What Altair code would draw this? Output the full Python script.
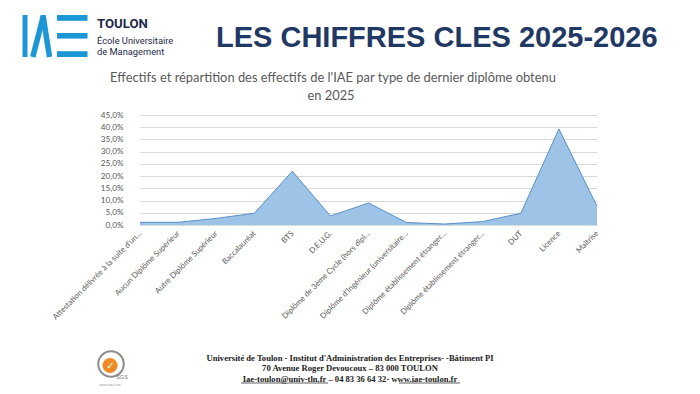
import json
import altair as alt
import pandas as pd

# ---------------- data ----------------
categories = [
    "Attestation délivrée à la suite d'un…",
    "Aucun Diplôme Supérieur",
    "Autre Diplôme Supérieur",
    "Baccalauréat",
    "BTS",
    "D.E.U.G.",
    "Diplôme de 3ème Cycle (hors dipl…",
    "Diplôme d'Ingénieur (universitaire…",
    "Diplôme établissement étranger…",
    "Diplôme établissement étranger…",
    "DUT",
    "Licence",
    "Maîtrise",
]
values = [1.1, 1.1, 2.7, 4.8, 22.0, 3.7, 9.0, 1.0, 0.4, 1.4, 4.8, 39.3, 7.7]
y_ticks = [0, 5, 10, 15, 20, 25, 30, 35, 40, 45]

main_title = "LES CHIFFRES CLES 2025-2026"
chart_title = ["Effectifs et répartition des effectifs de l'IAE par type de dernier diplôme obtenu", "en 2025"]
footer = [
    "Université de Toulon - Institut d'Administration des Entreprises- -Bâtiment PI",
    "70 Avenue Roger Devoucoux – 83 000 TOULON",
    "Iae-toulon@univ-tln.fr – 04 83 36 64 32- www.iae-toulon.fr",
]

df = pd.DataFrame({"idx": list(range(len(categories))), "value": values})

# plot-area origin on the page
OX, OY = 140, 115
W, H = 457, 110


def X(x):
    return x - OX


def Y(y):
    return y - OY


one = pd.DataFrame({"a": [0]})

label_expr = json.dumps(categories) + "[datum.value]"

x_enc = alt.X(
    "idx:O",
    scale=alt.Scale(type="point", padding=0),
    axis=alt.Axis(
        title=None,
        labelExpr=label_expr,
        labelAngle=-45,
        labelAlign="right",
        labelBaseline="middle",
        labelPadding=7,
        labelFont="Lato",
        labelFontSize=7.8,
        labelColor="#595959",
        labelLimit=300,
        domain=False,
        ticks=False,
        grid=False,
    ),
)
y_enc = alt.Y(
    "value:Q",
    scale=alt.Scale(domain=[0, 45], nice=False),
    axis=alt.Axis(
        title=None,
        values=y_ticks,
        labelExpr="replace(format(datum.value, '.1f'), '.', ',') + '%'",
        labelFont="Lato",
        labelFontSize=8.2,
        labelColor="#595959",
        labelPadding=17,
        domain=False,
        ticks=False,
        grid=True,
        gridColor="#d9d9d9",
        gridWidth=1,
    ),
)

area = alt.Chart(df).mark_area(
    color="#9dc3e6",
    opacity=1,
    line={"color": "#5b8fc7", "strokeWidth": 1},
).encode(x=x_enc, y=y_enc)


def text(t, x, y, **kw):
    return alt.Chart(one).mark_text(text=t, **kw).encode(x=alt.value(X(x)), y=alt.value(Y(y)))


def rect(x1, x2, y1, y2, color):
    return alt.Chart(one).mark_rect(color=color).encode(
        x=alt.value(X(x1)), x2=alt.value(X(x2)), y=alt.value(Y(y1)), y2=alt.value(Y(y2))
    )


def rule(x1, y1, x2, y2, color, w, cap="butt"):
    return alt.Chart(one).mark_rule(color=color, strokeWidth=w, strokeCap=cap).encode(
        x=alt.value(X(x1)), x2=alt.value(X(x2)), y=alt.value(Y(y1)), y2=alt.value(Y(y2))
    )


BLUE = "#1d96d6"
NAVY = "#1e2a4a"
layers = [area]

# IAE logo
layers += [
    rect(22.5, 27.5, 15, 57, BLUE),
    rule(32.8, 57, 43.2, 16.5, BLUE, 5.5),
    rule(43.2, 16.5, 49.5, 57, BLUE, 5.5),
    rect(40.6, 45.8, 15, 19, BLUE),
    rect(57, 87.5, 15, 20.8, BLUE),
    rect(57, 87.5, 33, 38.6, BLUE),
    rect(57, 87.5, 51.2, 57, BLUE),
]
layers += [
    text("TOULON", 97, 28.3, align="left", baseline="alphabetic", font="Roboto", fontSize=13.2, fontWeight="bold", color=NAVY),
    text("École Universitaire", 97, 44, align="left", baseline="alphabetic", font="Roboto", fontSize=9.3, color=NAVY),
    text("de Management", 97, 55, align="left", baseline="alphabetic", font="Roboto", fontSize=9.3, color=NAVY),
]
# main title
layers.append(
    text(main_title, 216, 46.7, align="left", baseline="alphabetic", font="Liberation Sans", fontSize=29, fontWeight="bold", color="#1f3864")
)
# chart title
layers += [
    text(chart_title[0], 333, 81.7, align="center", baseline="alphabetic", font="Lato", fontSize=12.9, color="#595959"),
    text(chart_title[1], 331, 100, align="center", baseline="alphabetic", font="Lato", fontSize=12.9, color="#595959"),
]
# footer
fy = [360.5, 371, 381.5]
for t, yy in zip(footer, fy):
    layers.append(text(t, 350, yy, align="center", baseline="alphabetic", font="Liberation Serif", fontSize=8.6, fontWeight="bold", color="#1a1a1a"))
layers += [
    rule(241, 383, 328, 383, "#1a1a1a", 0.7),
    rule(399, 383, 460, 383, "#1a1a1a", 0.7),
]
# SGS logo
layers += [
    alt.Chart(one).mark_point(shape="circle", size=650, filled=False, color="#8c8c8c", strokeWidth=2, opacity=1).encode(
        x=alt.value(X(111)), y=alt.value(Y(364))
    ),
    alt.Chart(one).mark_point(shape="circle", size=230, filled=True, color="#f08a24", opacity=1).encode(
        x=alt.value(X(110)), y=alt.value(Y(365.5))
    ),
    text("✓", 110.5, 366, align="center", baseline="middle", font="DejaVu Sans", fontSize=10, fontWeight="bold", color="white"),
    text("SGS", 122, 377, align="center", baseline="middle", font="Liberation Sans", fontSize=5.5, color="#808080"),
    text("www.sgs.com", 110, 385, align="center", baseline="middle", font="Liberation Sans", fontSize=3.5, color="#a0a0a0"),
]

chart = alt.layer(*layers).properties(
    width=W,
    height=H,
    autosize=alt.AutoSizeParams(type="none"),
    padding={"left": OX - 8, "top": OY - 8, "right": 684 - (OX - 8) - W, "bottom": 378 - (OY - 8) - H},
    background="white",
).configure_view(stroke=None)

chart.save("out.html", embed_options={"renderer": "svg", "actions": False})
